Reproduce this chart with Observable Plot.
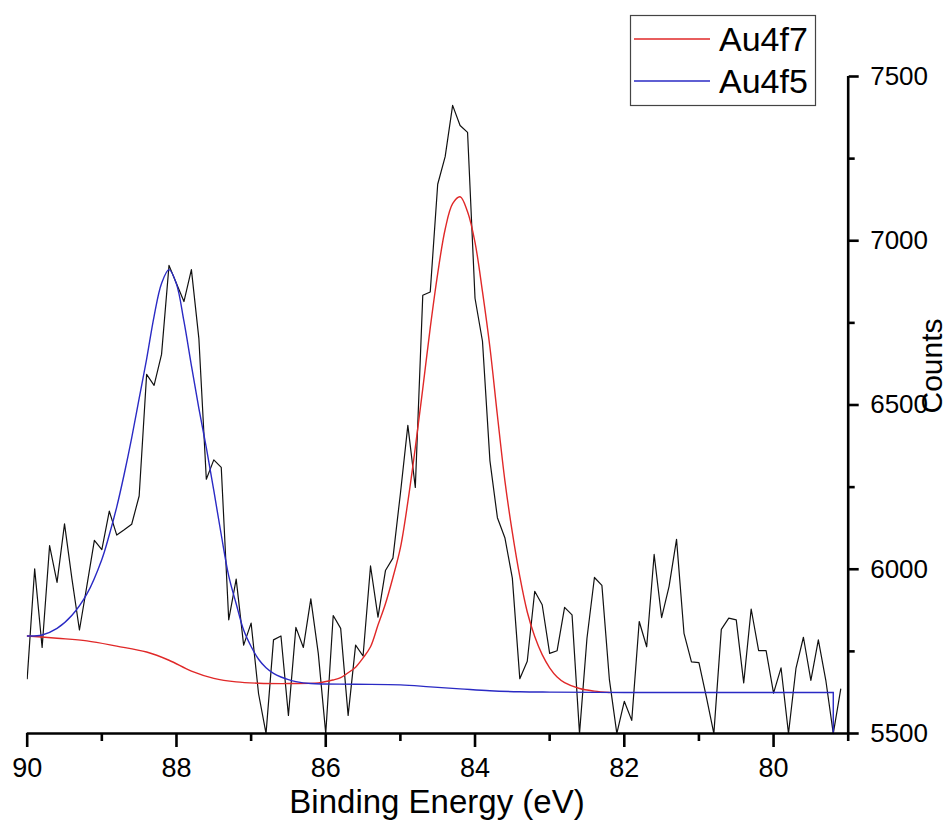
<!DOCTYPE html>
<html>
<head>
<meta charset="utf-8">
<script src="https://cdn.jsdelivr.net/npm/d3@7"></script>
<script src="https://cdn.jsdelivr.net/npm/@observablehq/plot@0.6"></script>
<style>
  html, body { margin: 0; padding: 0; background: #fff; }
  #chart { width: 950px; height: 838px; position: relative; }
</style>
</head>
<body>
<div id="chart"></div>
<script>
// ---- measured spectrum (Binding Energy, eV) ----
const energy = [90.0, 89.9, 89.8, 89.7, 89.6, 89.5, 89.4, 89.3, 89.2, 89.1,
  89.0, 88.9, 88.8, 88.7, 88.6, 88.5, 88.4, 88.3, 88.2, 88.1,
  88.0, 87.9, 87.8, 87.7, 87.6, 87.5, 87.4, 87.3, 87.2, 87.1,
  87.0, 86.9, 86.8, 86.7, 86.6, 86.5, 86.4, 86.3, 86.2, 86.1,
  86.0, 85.9, 85.8, 85.7, 85.6, 85.5, 85.4, 85.3, 85.2, 85.1,
  85.0, 84.9, 84.8, 84.7, 84.6, 84.5, 84.4, 84.3, 84.2, 84.1,
  84.0, 83.9, 83.8, 83.7, 83.6, 83.5, 83.4, 83.3, 83.2, 83.1,
  83.0, 82.9, 82.8, 82.7, 82.6, 82.5, 82.4, 82.3, 82.2, 82.1,
  82.0, 81.9, 81.8, 81.7, 81.6, 81.5, 81.4, 81.3, 81.2, 81.1,
  81.0, 80.9, 80.8, 80.7, 80.6, 80.5, 80.4, 80.3, 80.2, 80.1,
  80.0, 79.9, 79.8, 79.7, 79.6, 79.5, 79.4, 79.3, 79.2, 79.1];
const counts = [5667, 6001, 5762, 6072, 5960, 6138, 5970, 5815, 5950, 6088,
  6060, 6177, 6104, 6120, 6137, 6223, 6593, 6560, 6654, 6925,
  6870, 6815, 6912, 6703, 6274, 6333, 6310, 5846, 5970, 5769,
  5836, 5621, 5500, 5785, 5797, 5555, 5823, 5762, 5910, 5744,
  5500, 5859, 5820, 5555, 5769, 5736, 6010, 5854, 5996, 6034,
  6230, 6438, 6249, 6834, 6844, 7172, 7256, 7412, 7351, 7330,
  6825, 6694, 6330, 6157, 6096, 5973, 5667, 5720, 5933, 5892,
  5744, 5752, 5884, 5861, 5500, 5790, 5975, 5951, 5665, 5500,
  5598, 5540, 5841, 5764, 6045, 5853, 5948, 6091, 5805, 5718,
  5716, 5611, 5500, 5817, 5851, 5846, 5654, 5879, 5752, 5752,
  5623, 5700, 5500, 5698, 5793, 5662, 5785, 5662, 5500, 5635];

// ---- Au4f7 fit envelope (red) ----
const au4f7Energy = [90.0, 89.6, 89.2, 88.8, 88.4, 88.1, 87.8, 87.5, 87.2, 86.9,
  86.5, 86.1, 85.9, 85.8, 85.7, 85.6, 85.5, 85.4, 85.3, 85.2,
  85.1, 85.0, 84.9, 84.8, 84.7, 84.6, 84.5, 84.4, 84.3, 84.2,
  84.1, 84.0, 83.9, 83.8, 83.7, 83.6, 83.5, 83.4, 83.3, 83.2,
  83.1, 83.0, 82.9, 82.8, 82.6, 82.4, 82.2];
const au4f7Counts = [5797, 5790, 5782, 5766, 5748, 5723, 5690, 5668, 5657, 5653,
  5652, 5654, 5663, 5670, 5685, 5702, 5730, 5764, 5830, 5895,
  5975, 6065, 6205, 6370, 6550, 6735, 6900, 7035, 7113, 7134,
  7088, 6995, 6845, 6675, 6468, 6270, 6112, 5978, 5870, 5795,
  5740, 5700, 5672, 5655, 5637, 5629, 5625];

// ---- Au4f5 fit envelope (blue) ----
const au4f5Energy = [90.0, 89.8, 89.6, 89.4, 89.2, 89.0, 88.9, 88.8, 88.7, 88.6,
  88.5, 88.4, 88.3, 88.2, 88.1, 88.0, 87.9, 87.8, 87.7, 87.6,
  87.5, 87.4, 87.3, 87.2, 87.1, 87.0, 86.9, 86.8, 86.7, 86.6,
  86.5, 86.4, 86.2, 85.6, 85.0, 84.6, 84.2, 83.8, 83.4, 83.0,
  82.0, 81.0, 80.0, 79.2];
const au4f5Counts = [5797, 5800, 5820, 5860, 5925, 6030, 6105, 6190, 6290, 6400,
  6520, 6640, 6770, 6870, 6912, 6868, 6755, 6620, 6490, 6370,
  6240, 6105, 5980, 5895, 5815, 5765, 5726, 5700, 5683, 5672,
  5664, 5658, 5652, 5650, 5648, 5642, 5636, 5630, 5627, 5626,
  5625, 5625, 5625, 5625];
// end of the Au4f5 trace: drops to the axis at 79.2 eV
const au4f5EndEnergy = [79.2, 79.2];
const au4f5EndCounts = [5625, 5500];

// ---- axis ticks ----
const xMajorTicks = [90, 88, 86, 84, 82, 80];
const xMinorTicks = [89, 87, 85, 83, 81, 79];
const yMajorTicks = [5500, 6000, 6500, 7000, 7500];
const yMinorTicks = [5750, 6250, 6750, 7250];
const seriesNames = ["Au4f7", "Au4f5"];
const seriesColors = ["#e02828", "#2a2ac4"];
const xTitle = "Binding Energy (eV)";
const yTitle = "Counts";

const spectrum = energy.map((e, i) => ({e, c: counts[i]}));
const au4f7 = au4f7Energy.map((e, i) => ({e, c: au4f7Counts[i]}));
const au4f5 = au4f5Energy.map((e, i) => ({e, c: au4f5Counts[i]}));
const au4f5End = au4f5EndEnergy.map((e, i) => ({e, c: au4f5EndCounts[i]}));

const font = "'Liberation Sans', Arial, Helvetica, sans-serif";

const svg = Plot.plot({
  width: 950,
  height: 838,
  marginLeft: 26.7,
  marginRight: 102.3,
  marginTop: 76,
  marginBottom: 105,
  style: {fontFamily: font, background: "#fff", color: "#000", overflow: "visible"},
  x: {domain: [90, 79], label: null},
  y: {domain: [5500, 7500], label: null},
  marks: [
    Plot.line(spectrum, {x: "e", y: "c", stroke: "#111", strokeWidth: 1.2, clip: true}),
    Plot.line(au4f7, {x: "e", y: "c", stroke: seriesColors[0], strokeWidth: 1.4, curve: "catmull-rom", clip: true}),
    Plot.line(au4f5, {x: "e", y: "c", stroke: seriesColors[1], strokeWidth: 1.4, curve: "catmull-rom", clip: true}),
    Plot.line(au4f5End, {x: "e", y: "c", stroke: seriesColors[1], strokeWidth: 1.4}),
    Plot.axisX({ticks: xMajorTicks, tickSize: 14, tickPadding: 10, fontSize: 27, strokeWidth: 2.6, label: null, tickFormat: d => String(d)}),
    Plot.axisX({ticks: xMinorTicks, tickSize: 8, text: null, strokeWidth: 2.6, label: null}),
    Plot.axisY({anchor: "right", ticks: yMajorTicks, tickSize: 10, tickPadding: 12, fontSize: 26, strokeWidth: 2.6, label: null, tickFormat: d => String(d)}),
    Plot.axisY({anchor: "right", ticks: yMinorTicks, tickSize: 6, text: null, strokeWidth: 2.6, label: null}),
    Plot.ruleY([5500], {x1: 90, x2: 79, stroke: "#000", strokeWidth: 2.6}),
    Plot.ruleX([79], {y1: 5500, y2: 7500, stroke: "#000", strokeWidth: 2.6})
  ]
});

document.getElementById("chart").appendChild(svg);

const root = d3.select(svg);
// axis titles
root.append("text").attr("x", 437).attr("y", 801).attr("dy", "0.35em")
  .attr("text-anchor", "middle").attr("font-family", font).attr("font-size", 33)
  .attr("fill", "#000").text(xTitle);
root.append("text").attr("transform", "translate(931,366) rotate(-90)").attr("dy", "0.35em")
  .attr("text-anchor", "middle").attr("font-family", font).attr("font-size", 30)
  .attr("fill", "#000").text(yTitle);

// legend box (top right, as in the reference)
const lg = root.append("g").attr("font-family", font);
lg.append("rect").attr("x", 630.5).attr("y", 15.5).attr("width", 185).attr("height", 90)
  .attr("fill", "#fff").attr("stroke", "#444").attr("stroke-width", 1.2);
seriesNames.forEach((name, i) => {
  const cy = 39 + i * 42;
  lg.append("line").attr("x1", 634).attr("x2", 710).attr("y1", cy).attr("y2", cy)
    .attr("stroke", seriesColors[i]).attr("stroke-width", 1.4);
  lg.append("text").attr("x", 719).attr("y", cy).attr("dy", "0.35em")
    .attr("text-anchor", "start").attr("font-size", 34).attr("fill", "#000").text(name);
});
</script>
</body>
</html>
